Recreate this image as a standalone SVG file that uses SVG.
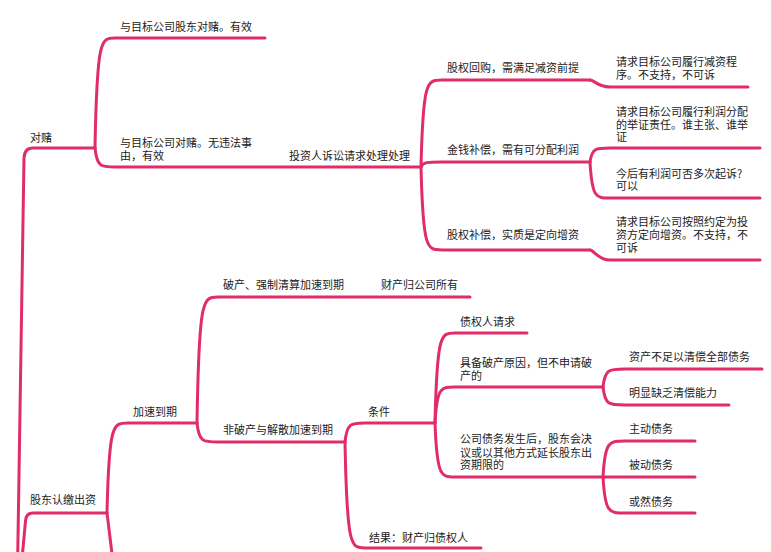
<svg xmlns="http://www.w3.org/2000/svg" width="772" height="552" viewBox="0 0 772 552">
<style>
.c{fill:none;stroke:#e02d68;stroke-width:3;stroke-linecap:round;stroke-linejoin:round}
text{font-family:"Noto Sans CJK SC","Noto Sans",sans-serif;font-size:11px;fill:#222}
</style>
<rect width="772" height="552" fill="#fff"/>
<line x1="771.5" y1="0" x2="771.5" y2="552" stroke="#dcdcdc" stroke-width="1"/>
<g id="connectors">
<path class="c" d="M17.5,570 L24,158 Q24.5,148 33,148 L95,148"/>
<path class="c" d="M95,148 C97,38 101,38 115,38 L265,38"/>
<path class="c" d="M95,148 C97,167 101,167 115,167 L421,167"/>
<path class="c" d="M421,167 C423,80 427,80 442,80 L590,80"/>
<path class="c" d="M421,167 C423,162 427,162 442,162 L590,162"/>
<path class="c" d="M421,167 C423,250 427,250 442,250 L590,250"/>
<path class="c" d="M590,80 C594,80 598,87 610,87 L748,87"/>
<path class="c" d="M590,162 C592,148 596,148 610,148 L760,148"/>
<path class="c" d="M590,162 C592,198 596,198 610,198 L760,198"/>
<path class="c" d="M590,250 C594,250 598,260 610,260 L760,260"/>
<path class="c" d="M21,570 L25.5,521 Q26,513 33,513 L107,513"/>
<path class="c" d="M107,513 L114,570"/>
<path class="c" d="M107,513 C109,423 113,423 128,423 L197,423"/>
<path class="c" d="M197,423 C199,297 203,297 218,297 L470,297"/>
<path class="c" d="M197,423 C199,442 203,442 218,442 L345,442"/>
<path class="c" d="M345,442 C347,423 351,423 365,423 L435,423"/>
<path class="c" d="M345,442 C347,548 351,548 365,548 L481,548"/>
<path class="c" d="M435,423 C437,333 441,333 455,333 L527,333"/>
<path class="c" d="M435,423 C437,387 441,387 455,387 L603,387"/>
<path class="c" d="M435,423 C437,477 441,477 455,477 L603,477"/>
<path class="c" d="M603,387 C605,369 609,369 625,369 L762,369"/>
<path class="c" d="M603,387 C605,405 609,405 625,405 L729,405"/>
<path class="c" d="M603,477 C605,441 609,441 625,441 L695,441"/>
<path class="c" d="M603,477 L695,477"/>
<path class="c" d="M603,477 C605,513 609,513 625,513 L695,513"/>
</g>
<g id="n-duidu"><text x="30" y="142">对赌</text></g>
<g id="n-gudong"><text x="120" y="31">与目标公司股东对赌。有效</text></g>
<g id="n-mubiao"><text x="120" y="147">与目标公司对赌。无违法事</text><text x="120" y="159.5">由，有效</text></g>
<g id="n-touziren"><text x="289" y="160">投资人诉讼请求处理处理</text></g>
<g id="n-huigou"><text x="447" y="72">股权回购，需满足减资前提</text></g>
<g id="n-jianzi"><text x="616" y="66">请求目标公司履行减资程</text><text x="616" y="79">序。不支持，不可诉</text></g>
<g id="n-jinqian"><text x="447" y="154">金钱补偿，需有可分配利润</text></g>
<g id="n-lirun"><text x="616" y="116">请求目标公司履行利润分配</text><text x="616" y="129">的举证责任。谁主张、谁举</text><text x="616" y="141">证</text></g>
<g id="n-duoci"><text x="616" y="178">今后有利润可否多次起诉?</text><text x="616" y="190">可以</text></g>
<g id="n-guquan"><text x="447" y="239">股权补偿，实质是定向增资</text></g>
<g id="n-zengzi"><text x="616" y="226">请求目标公司按照约定为投</text><text x="616" y="239">资方定向增资。不支持，不</text><text x="616" y="252">可诉</text></g>
<g id="n-renjiao"><text x="30" y="504">股东认缴出资</text></g>
<g id="n-jiasu"><text x="133" y="416">加速到期</text></g>
<g id="n-pochan"><text x="223" y="289">破产、强制清算加速到期</text></g>
<g id="n-suoyou"><text x="381" y="289">财产归公司所有</text></g>
<g id="n-feipochan"><text x="223" y="434">非破产与解散加速到期</text></g>
<g id="n-tiaojian"><text x="368" y="416">条件</text></g>
<g id="n-jieguo"><text x="369" y="542">结果：财产归债权人</text></g>
<g id="n-qingqiu"><text x="460" y="326">债权人请求</text></g>
<g id="n-juebei"><text x="460" y="367">具备破产原因，但不申请破</text><text x="460" y="379.5">产的</text></g>
<g id="n-zhaiwu"><text x="460" y="443">公司债务发生后，股东会决</text><text x="460" y="456.5">议或以其他方式延长股东出</text><text x="460" y="469">资期限的</text></g>
<g id="n-buzu"><text x="629" y="361">资产不足以清偿全部债务</text></g>
<g id="n-quefa"><text x="629" y="397">明显缺乏清偿能力</text></g>
<g id="n-zhudong"><text x="629" y="433">主动债务</text></g>
<g id="n-beidong"><text x="629" y="469">被动债务</text></g>
<g id="n-huoran"><text x="629" y="506">或然债务</text></g>
</svg>
